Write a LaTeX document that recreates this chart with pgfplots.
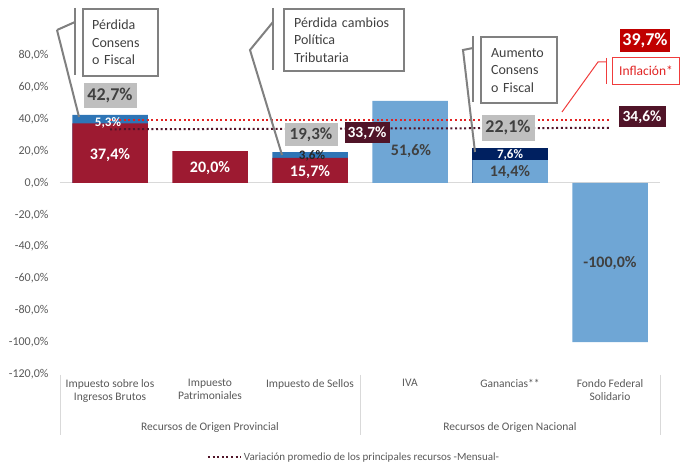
\documentclass[border=0pt]{standalone}
\usepackage{fontspec}
\setmainfont{Carlito}
\usepackage{pgfplots}
\pgfplotsset{compat=1.18}
\definecolor{barred}{RGB}{157,26,49}
\definecolor{topblue}{RGB}{46,117,182}
\definecolor{lightblue}{RGB}{111,166,213}
\definecolor{navy}{RGB}{0,32,96}
\definecolor{boxgray}{RGB}{191,191,191}
\definecolor{dgray}{RGB}{64,64,64}
\definecolor{tgray}{RGB}{89,89,89}
\definecolor{maroon}{RGB}{80,20,40}
\definecolor{redbox}{RGB}{192,0,0}
\definecolor{redline}{RGB}{225,35,35}
\definecolor{infred}{RGB}{240,60,60}
\definecolor{callgray}{RGB}{128,128,128}
\definecolor{gridgray}{RGB}{217,217,217}
\newcommand\fs[1]{\fontsize{#1}{#1}\selectfont}
\begin{document}
\begin{tikzpicture}
\path[use as bounding box] (0pt,0pt) rectangle (686pt,465pt);
\begin{axis}[
  at={(60pt,91pt)}, anchor=south west,
  scale only axis, width=600pt, height=366.2pt,
  xmin=-0.5, xmax=5.5, ymin=-120, ymax=110,
  clip=false,
  axis line style={draw=none},
  major tick length=0pt,
  ytick={-120,-100,-80,-60,-40,-20,0,20,40,60,80},
  yticklabels={{-120,0\%},{-100,0\%},{-80,0\%},{-60,0\%},{-40,0\%},{-20,0\%},{0,0\%},{20,0\%},{40,0\%},{60,0\%},{80,0\%}},
  yticklabel style={font=\fs{12}, text=tgray, xshift=-8pt},
  xtick={0,1,2,3,4,5},
  xticklabels={{Impuesto sobre los\\Ingresos Brutos},{Impuesto\\Patrimoniales},{Impuesto de Sellos},{IVA},{Ganancias**},{Fondo Federal\\Solidario}},
  xticklabel style={font=\fontsize{11.5}{13}\selectfont, text=tgray, align=center, yshift=-2pt},
  legend style={at={(0.49,-0.2265)}, anchor=center, draw=none, fill=none, font=\fs{11}, text=tgray},
  legend image code/.code={\draw[#1] (0pt,0pt) -- (33pt,0pt);},
]
\addplot[draw=gridgray, line width=1pt, forget plot] coordinates {(-0.5,0) (5.5,0)};
% totals (upper segments)
\addplot[ybar, bar width=0.755, bar shift=0pt, fill=topblue, draw=none, forget plot] coordinates {(0,42.7) (2,19.3)};
\addplot[ybar, bar width=0.755, bar shift=0pt, fill=navy, draw=none, forget plot] coordinates {(4,22.0)};
% base segments
\addplot[ybar, bar width=0.755, bar shift=0pt, fill=barred, draw=none, forget plot] coordinates {(0,37.4) (1,20.0) (2,15.7)};
\addplot[ybar, bar width=0.755, bar shift=0pt, fill=lightblue, draw=none, forget plot] coordinates {(3,51.6) (4,14.4) (5,-100.0)};
% reference lines
\addplot[redline, line width=2pt, dash pattern=on 2pt off 2.6pt, forget plot] coordinates {(0,39.7) (5,39.7)};
\addplot[maroon, line width=2pt, dash pattern=on 2pt off 2.6pt] coordinates {(0,33.7) (5,34.6)};
\addlegendentry{Variación promedio de los principales recursos -Mensual-}
% category group dividers and labels
\draw[gridgray, line width=0.8pt] (axis cs:-0.5,-120.5) -- (axis cs:-0.5,-158.5);
\draw[gridgray, line width=0.8pt] (axis cs:2.5,-120.5) -- (axis cs:2.5,-158.5);
\draw[gridgray, line width=0.8pt] (axis cs:5.5,-120.5) -- (axis cs:5.5,-158.5);
\node[font=\fs{11.5}, text=tgray] at (axis cs:1,-153.6) {Recursos de Origen Provincial};
\node[font=\fs{11.5}, text=tgray] at (axis cs:4,-153.6) {Recursos de Origen Nacional};
\end{axis}
\begin{scope}[x=1pt, y=-1pt, shift={(0pt,465pt)}]
% data labels
\node[font=\bfseries\fs{16}, text=white] at (110,155) {37,4\%};
\node[font=\bfseries\fs{13}, text=white] at (108,123) {5,3\%};
\node[font=\bfseries\fs{16}, text=white] at (210,168) {20,0\%};
\node[font=\bfseries\fs{16}, text=white] at (310,172) {15,7\%};
\node[font=\bfseries\fs{13}, text=black!85] at (312,156) {3,6\%};
\node[font=\bfseries\fs{16}, text=dgray] at (411,151) {51,6\%};
\node[font=\bfseries\fs{13}, text=white] at (510,155) {7,6\%};
\node[font=\bfseries\fs{16}, text=dgray] at (510,172) {14,4\%};
\node[font=\bfseries\fs{16}, text=dgray] at (610,263) {-100,0\%};
% total boxes
\node[fill=boxgray, font=\bfseries\fs{18}, text=dgray, minimum width=53pt, minimum height=25pt, inner sep=0pt] at (110,96) {42,7\%};
\node[fill=boxgray, font=\bfseries\fs{17}, text=dgray, minimum width=53pt, minimum height=23pt, inner sep=0pt] at (311,135) {19,3\%};
\node[fill=boxgray, font=\bfseries\fs{18}, text=dgray, minimum width=53pt, minimum height=26pt, inner sep=0pt] at (508,128) {22,1\%};
\node[fill=maroon, font=\bfseries\fs{15.5}, text=white, minimum width=45pt, minimum height=21pt, inner sep=0pt] at (367,133) {33,7\%};
\node[fill=maroon, font=\bfseries\fs{15.5}, text=white, minimum width=47pt, minimum height=21pt, inner sep=0pt] at (642,117) {34,6\%};
\node[fill=redbox, font=\bfseries\fs{18}, text=white, minimum width=50pt, minimum height=23pt, inner sep=0pt] at (645,41) {39,7\%};
% Inflación callout
\node[draw=infred, line width=1pt, fill=white, font=\fs{13.5}, text=redline, minimum width=67pt, minimum height=27pt, inner sep=0pt] at (646,71) {Inflación*};
\draw[infred, line width=1pt] (606,58) -- (606,84);
\draw[infred, line width=1pt] (606,62) -- (598,62) -- (562,112);
% gray callouts
\draw[callgray, line width=2pt] (57,30) -- (79,117);
\draw[callgray, line width=2pt] (75,22) -- (57,30);
\draw[callgray, line width=2.5pt] (75,8) -- (75,75);
\node[draw=callgray, line width=2.2pt, anchor=north west, minimum width=75pt, minimum height=67pt, inner xsep=9pt, inner ysep=0pt, text width=57pt, align=left, font=\fontsize{14}{17.5}\selectfont, text=dgray] at (82,8) {Pérdida\\Consens\\o Fiscal};
\draw[callgray, line width=2pt] (273,22) -- (250,50) -- (282,155);
\draw[callgray, line width=2.5pt] (273,8) -- (273,70);
\node[draw=callgray, line width=2.2pt, anchor=north west, minimum width=120pt, minimum height=62pt, inner xsep=10pt, inner ysep=0pt, text width=100pt, align=left, font=\fontsize{14}{17.5}\selectfont, text=dgray] at (283,8) {Pérdida cambios\\Política\\Tributaria};
\draw[callgray, line width=2pt] (473,48) -- (463,50) -- (475,152);
\draw[callgray, line width=2.5pt] (473,36) -- (473,102);
\node[draw=callgray, line width=2.2pt, anchor=north west, minimum width=76pt, minimum height=66pt, inner xsep=10pt, inner ysep=0pt, text width=56pt, align=left, font=\fontsize{14}{17.5}\selectfont, text=dgray] at (480,36) {Aumento\\Consens\\o Fiscal};
\end{scope}
\end{tikzpicture}
\end{document}
